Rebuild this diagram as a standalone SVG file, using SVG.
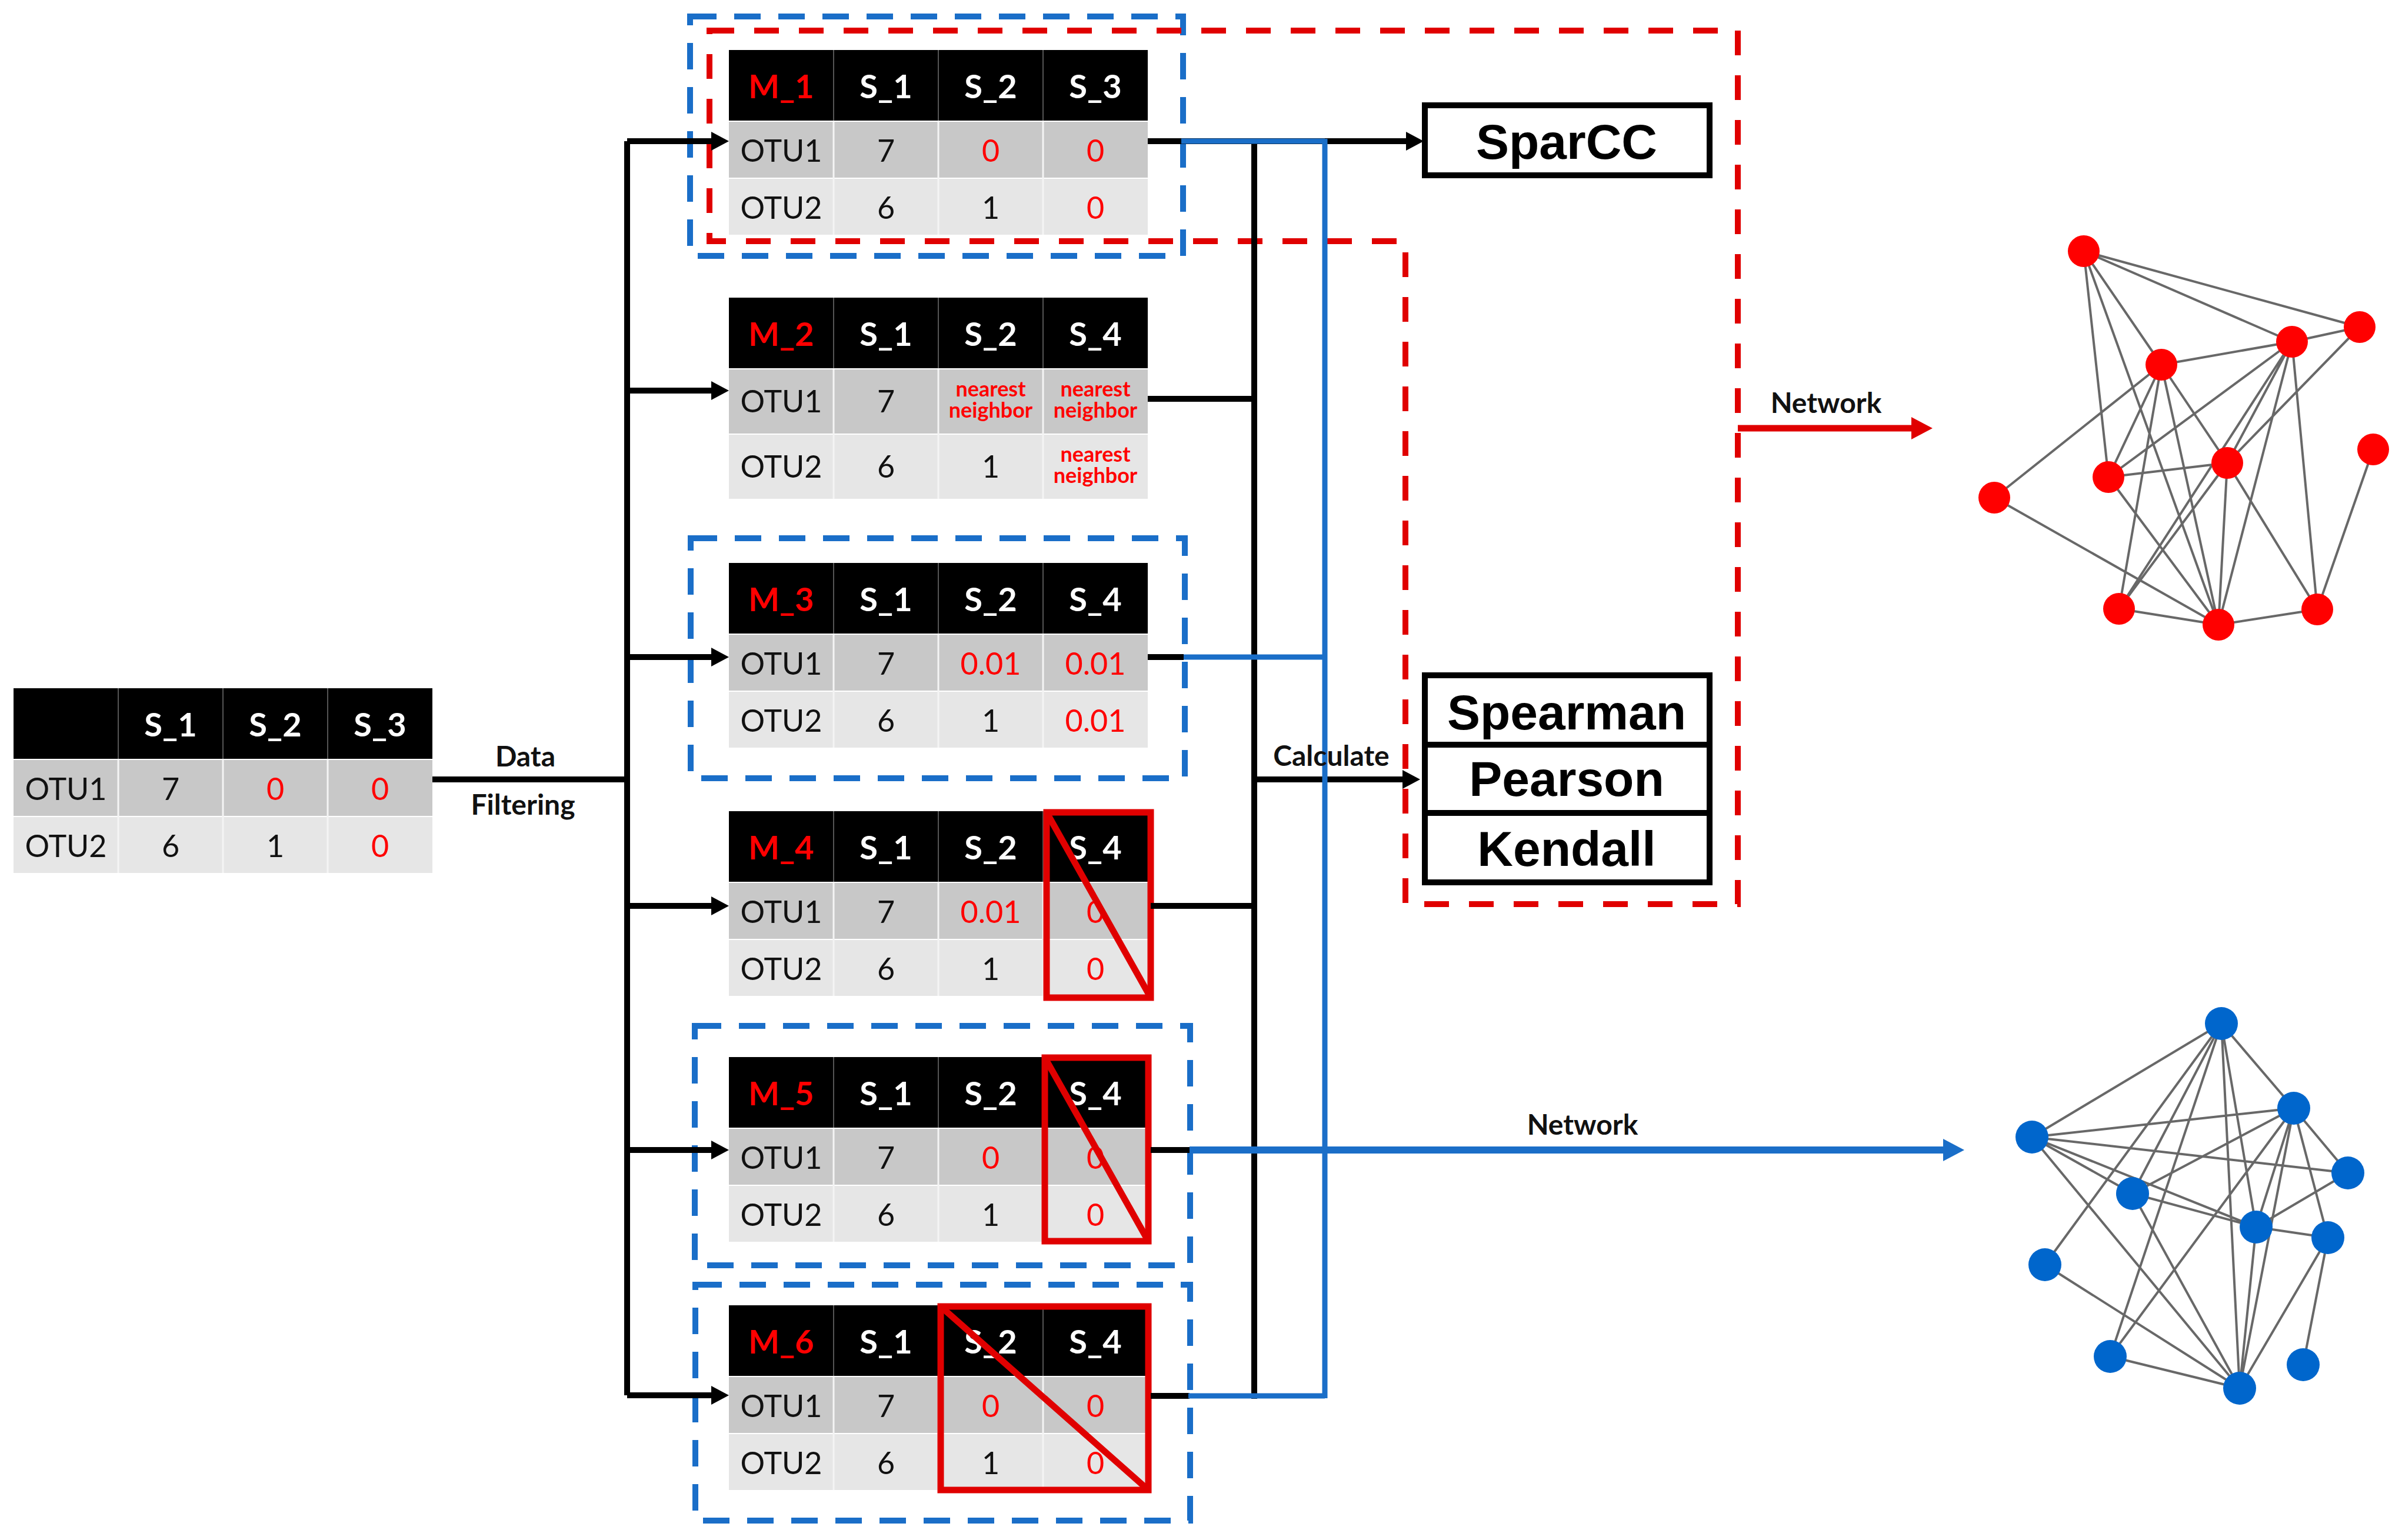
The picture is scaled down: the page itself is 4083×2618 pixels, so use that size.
<svg xmlns="http://www.w3.org/2000/svg" xmlns:xlink="http://www.w3.org/1999/xlink" width="4083" height="2618" viewBox="0 0 4083 2618">
<style>
.hd{fill:#000}
.r1{fill:#c8c8c8}
.r2{fill:#e6e6e6}
.sepd{stroke:#555;stroke-width:2}
.sepw{stroke:#f4f4f4;stroke-width:3}
.th{font-family:Lato,'Liberation Sans',sans-serif;font-weight:bold;font-size:56px;fill:#fff;text-anchor:middle}
.tm{font-family:Lato,'Liberation Sans',sans-serif;font-weight:bold;font-size:56px;fill:#f00;text-anchor:middle}
.td{font-family:Lato,'Liberation Sans',sans-serif;font-size:52px;fill:#111;text-anchor:middle}
.tr{font-family:Lato,'Liberation Sans',sans-serif;font-size:52px;fill:#f00;text-anchor:middle}
.nn{font-family:Lato,'Liberation Sans',sans-serif;font-weight:bold;font-size:36px;fill:#f00;text-anchor:middle}
.lbl{font-family:Lato,'Liberation Sans',sans-serif;font-weight:bold;font-size:48px;fill:#111;text-anchor:middle}
.box{fill:#fff;stroke:#000;stroke-width:10}
.bt{font-family:'Liberation Sans',Arial,sans-serif;font-weight:bold;font-size:84px;fill:#000;text-anchor:middle}
.bdash{fill:none;stroke:#1a6ec8;stroke-width:10;stroke-dasharray:45 30}
.rdash{fill:none;stroke:#e00000;stroke-width:10;stroke-dasharray:42 34}
.cross{fill:none;stroke:#e00000;stroke-width:11}
.bl{stroke:#000;stroke-width:10;fill:none}
.blu{stroke:#1a6ec8;stroke-width:9;fill:none}
.ed{stroke:#4d4d4d;stroke-width:4;stroke-opacity:.85}
.rn{fill:#ff0000}
.bn{fill:#0066cc}
</style>
<defs>
<marker id="ak" viewBox="0 0 30 32" markerWidth="30" markerHeight="32" refX="2" refY="16" orient="auto" markerUnits="userSpaceOnUse"><path d="M0,0L30,16L0,32z" fill="#000"/></marker>
<marker id="ab" viewBox="0 0 36 38" markerWidth="36" markerHeight="38" refX="2" refY="19" orient="auto" markerUnits="userSpaceOnUse"><path d="M0,0L36,19L0,38z" fill="#1a6ec8"/></marker>
<marker id="ar" viewBox="0 0 36 38" markerWidth="36" markerHeight="38" refX="2" refY="19" orient="auto" markerUnits="userSpaceOnUse"><path d="M0,0L36,19L0,38z" fill="#e00000"/></marker>
<g id="grid">
<rect class="hd" width="712" height="120"/>
<rect class="r1" y="122" width="712" height="95"/>
<rect class="r2" y="219" width="712" height="95"/>
<path class="sepd" d="M178,0V120M356,0V120M534,0V120"/>
<path class="sepw" d="M178,122V314M356,122V314M534,122V314"/>
</g>
</defs>
<rect width="4083" height="2618" fill="#fff"/>

<!-- dashed group outlines -->
<g id="groups">
<rect class="bdash" x="1173" y="28" width="838" height="407"/>
<rect class="bdash" x="1174" y="915" width="840" height="408"/>
<rect class="bdash" x="1181" y="1744" width="842" height="407"/>
<rect class="bdash" x="1182" y="2184" width="841" height="401"/>
<path class="rdash" d="M1206,52H2954V1537H2389V410H1206Z"/>
</g>

<!-- input table -->
<g id="input" transform="translate(23,1170)">
<use xlink:href="#grid"/>
<text class="th" x="267" y="82">S_1</text><text class="th" x="445" y="82">S_2</text><text class="th" x="623" y="82">S_3</text>
<text class="td" x="89" y="190">OTU1</text><text class="td" x="267" y="190">7</text><text class="tr" x="445" y="190">0</text><text class="tr" x="623" y="190">0</text>
<text class="td" x="89" y="287">OTU2</text><text class="td" x="267" y="287">6</text><text class="td" x="445" y="287">1</text><text class="tr" x="623" y="287">0</text>
</g>

<g id="m1" transform="translate(1239,85)">
<use xlink:href="#grid"/>
<text class="tm" x="89" y="82">M_1</text><text class="th" x="267" y="82">S_1</text><text class="th" x="445" y="82">S_2</text><text class="th" x="623" y="82">S_3</text>
<text class="td" x="89" y="190">OTU1</text><text class="td" x="267" y="190">7</text><text class="tr" x="445" y="190">0</text><text class="tr" x="623" y="190">0</text>
<text class="td" x="89" y="287">OTU2</text><text class="td" x="267" y="287">6</text><text class="td" x="445" y="287">1</text><text class="tr" x="623" y="287">0</text>
</g>

<g id="m2" transform="translate(1239,506)">
<rect class="hd" width="712" height="120"/>
<rect class="r1" y="122" width="712" height="109"/>
<rect class="r2" y="233" width="712" height="109"/>
<path class="sepd" d="M178,0V120M356,0V120M534,0V120"/>
<path class="sepw" d="M178,122V342M356,122V342M534,122V342"/>
<text class="tm" x="89" y="82">M_2</text><text class="th" x="267" y="82">S_1</text><text class="th" x="445" y="82">S_2</text><text class="th" x="623" y="82">S_4</text>
<text class="td" x="89" y="195">OTU1</text><text class="td" x="267" y="195">7</text>
<text class="nn" x="445" y="168">nearest</text><text class="nn" x="445" y="204">neighbor</text>
<text class="nn" x="623" y="168">nearest</text><text class="nn" x="623" y="204">neighbor</text>
<text class="td" x="89" y="306">OTU2</text><text class="td" x="267" y="306">6</text><text class="td" x="445" y="306">1</text>
<text class="nn" x="623" y="279">nearest</text><text class="nn" x="623" y="315">neighbor</text>
</g>

<g id="m3" transform="translate(1239,957)">
<use xlink:href="#grid"/>
<text class="tm" x="89" y="82">M_3</text><text class="th" x="267" y="82">S_1</text><text class="th" x="445" y="82">S_2</text><text class="th" x="623" y="82">S_4</text>
<text class="td" x="89" y="190">OTU1</text><text class="td" x="267" y="190">7</text><text class="tr" x="445" y="190">0.01</text><text class="tr" x="623" y="190">0.01</text>
<text class="td" x="89" y="287">OTU2</text><text class="td" x="267" y="287">6</text><text class="td" x="445" y="287">1</text><text class="tr" x="623" y="287">0.01</text>
</g>

<g id="m4" transform="translate(1239,1379)">
<use xlink:href="#grid"/>
<text class="tm" x="89" y="82">M_4</text><text class="th" x="267" y="82">S_1</text><text class="th" x="445" y="82">S_2</text><text class="th" x="623" y="82">S_4</text>
<text class="td" x="89" y="190">OTU1</text><text class="td" x="267" y="190">7</text><text class="tr" x="445" y="190">0.01</text><text class="tr" x="623" y="190">0</text>
<text class="td" x="89" y="287">OTU2</text><text class="td" x="267" y="287">6</text><text class="td" x="445" y="287">1</text><text class="tr" x="623" y="287">0</text>
</g>

<g id="m5" transform="translate(1239,1797)">
<use xlink:href="#grid"/>
<text class="tm" x="89" y="82">M_5</text><text class="th" x="267" y="82">S_1</text><text class="th" x="445" y="82">S_2</text><text class="th" x="623" y="82">S_4</text>
<text class="td" x="89" y="190">OTU1</text><text class="td" x="267" y="190">7</text><text class="tr" x="445" y="190">0</text><text class="tr" x="623" y="190">0</text>
<text class="td" x="89" y="287">OTU2</text><text class="td" x="267" y="287">6</text><text class="td" x="445" y="287">1</text><text class="tr" x="623" y="287">0</text>
</g>

<g id="m6" transform="translate(1239,2219)">
<use xlink:href="#grid"/>
<text class="tm" x="89" y="82">M_6</text><text class="th" x="267" y="82">S_1</text><text class="th" x="445" y="82">S_2</text><text class="th" x="623" y="82">S_4</text>
<text class="td" x="89" y="190">OTU1</text><text class="td" x="267" y="190">7</text><text class="tr" x="445" y="190">0</text><text class="tr" x="623" y="190">0</text>
<text class="td" x="89" y="287">OTU2</text><text class="td" x="267" y="287">6</text><text class="td" x="445" y="287">1</text><text class="tr" x="623" y="287">0</text>
</g>

<!-- removed-column marks -->
<g id="strikes">
<rect class="cross" x="1779" y="1381" width="177" height="315"/><path class="cross" d="M1779,1381L1956,1696"/>
<rect class="cross" x="1776" y="1798" width="176" height="312"/><path class="cross" d="M1776,1798L1952,2110"/>
<rect class="cross" x="1599" y="2221" width="353" height="312"/><path class="cross" d="M1599,2221L1952,2533"/>
</g>

<g id="sparcc">
<rect class="box" x="2422" y="179" width="484" height="119"/>
<text class="bt" x="2663" y="270">SparCC</text>
</g>
<g id="corr">
<rect class="box" x="2422" y="1148" width="484" height="352"/>
<path class="bl" d="M2422,1266H2906M2422,1382H2906"/>
<text class="bt" x="2663" y="1240">Spearman</text>
<text class="bt" x="2663" y="1353">Pearson</text>
<text class="bt" x="2663" y="1472">Kendall</text>
</g>

<!-- connectors -->
<g id="connectors">
<path class="bl" d="M735,1325H1066M1066,240V2372"/>
<path class="bl" marker-end="url(#ak)" d="M1066,240H1211"/>
<path class="bl" marker-end="url(#ak)" d="M1066,664H1211"/>
<path class="bl" marker-end="url(#ak)" d="M1066,1117H1211"/>
<path class="bl" marker-end="url(#ak)" d="M1066,1540H1211"/>
<path class="bl" marker-end="url(#ak)" d="M1066,1955H1211"/>
<path class="bl" marker-end="url(#ak)" d="M1066,2372H1211"/>
<path class="bl" marker-end="url(#ak)" d="M1951,240H2392"/>
<path class="bl" d="M2132,240V2378M1951,678H2132M1951,1117H2012M1956,1540H2132M1956,1955H2024M1956,2373H2022"/>
<path class="bl" marker-end="url(#ak)" d="M2132,1325H2386"/>
<path class="blu" d="M2008,240H2252M2012,1117H2252M2020,2373H2252M2252,236V2377"/>
<path stroke="#1a6ec8" stroke-width="12" fill="none" marker-end="url(#ab)" d="M2022,1955H3305"/>
<path stroke="#e00000" stroke-width="11" fill="none" marker-end="url(#ar)" d="M2954,728H3251"/>
<text class="lbl" x="893" y="1303">Data</text>
<text class="lbl" x="889" y="1385">Filtering</text>
<text class="lbl" x="2263" y="1302">Calculate</text>
<text class="lbl" x="3104" y="702">Network</text>
<text class="lbl" x="2690" y="1929">Network</text>
</g>

<!-- red network -->
<g id="net-red">
<path class="ed" d="M3542,427L4011,556M3542,427L3896,581M3542,427L3674,620M3542,427L3584,811M3542,427L3771,1062M3896,581L4011,556M3896,581L3674,620M3896,581L3584,811M3896,581L3786,787M3896,581L3602,1035M3896,581L3771,1062M3896,581L3939,1036M4011,556L3786,787M3674,620L3390,846M3674,620L3584,811M3674,620L3602,1035M3674,620L3771,1062M3674,620L3786,787M3786,787L3939,1036M3786,787L3584,811M3786,787L3771,1062M3786,787L3602,1035M3584,811L3771,1062M3390,846L3771,1062M3602,1035L3771,1062M3771,1062L3939,1036M4034,764L3939,1036"/>
<circle class="rn" cx="3542" cy="427" r="27"/>
<circle class="rn" cx="4011" cy="556" r="27"/>
<circle class="rn" cx="3896" cy="581" r="27"/>
<circle class="rn" cx="3674" cy="620" r="27"/>
<circle class="rn" cx="4034" cy="764" r="27"/>
<circle class="rn" cx="3786" cy="787" r="27"/>
<circle class="rn" cx="3584" cy="811" r="27"/>
<circle class="rn" cx="3390" cy="846" r="27"/>
<circle class="rn" cx="3602" cy="1035" r="27"/>
<circle class="rn" cx="3771" cy="1062" r="27"/>
<circle class="rn" cx="3939" cy="1036" r="27"/>
</g>

<!-- blue network -->
<g id="net-blue">
<path class="ed" d="M3776,1740L3454,1933M3776,1740L3899,1884M3776,1740L3476,2150M3776,1740L3625,2029M3776,1740L3587,2306M3776,1740L3807,2360M3776,1740L3835,2086M3454,1933L3899,1884M3454,1933L3991,1994M3454,1933L3625,2029M3454,1933L3835,2086M3454,1933L3807,2360M3899,1884L3625,2029M3899,1884L3587,2306M3899,1884L3835,2086M3899,1884L3807,2360M3899,1884L3991,1994M3899,1884L3957,2104M3625,2029L3835,2086M3625,2029L3807,2360M3991,1994L3835,2086M3835,2086L3957,2104M3835,2086L3807,2360M3957,2104L3807,2360M3957,2104L3915,2320M3476,2150L3807,2360M3587,2306L3807,2360"/>
<circle class="bn" cx="3776" cy="1740" r="28"/>
<circle class="bn" cx="3899" cy="1884" r="28"/>
<circle class="bn" cx="3454" cy="1933" r="28"/>
<circle class="bn" cx="3991" cy="1994" r="28"/>
<circle class="bn" cx="3625" cy="2029" r="28"/>
<circle class="bn" cx="3835" cy="2086" r="28"/>
<circle class="bn" cx="3957" cy="2104" r="28"/>
<circle class="bn" cx="3476" cy="2150" r="28"/>
<circle class="bn" cx="3587" cy="2306" r="28"/>
<circle class="bn" cx="3915" cy="2320" r="28"/>
<circle class="bn" cx="3807" cy="2360" r="28"/>
</g>
</svg>
